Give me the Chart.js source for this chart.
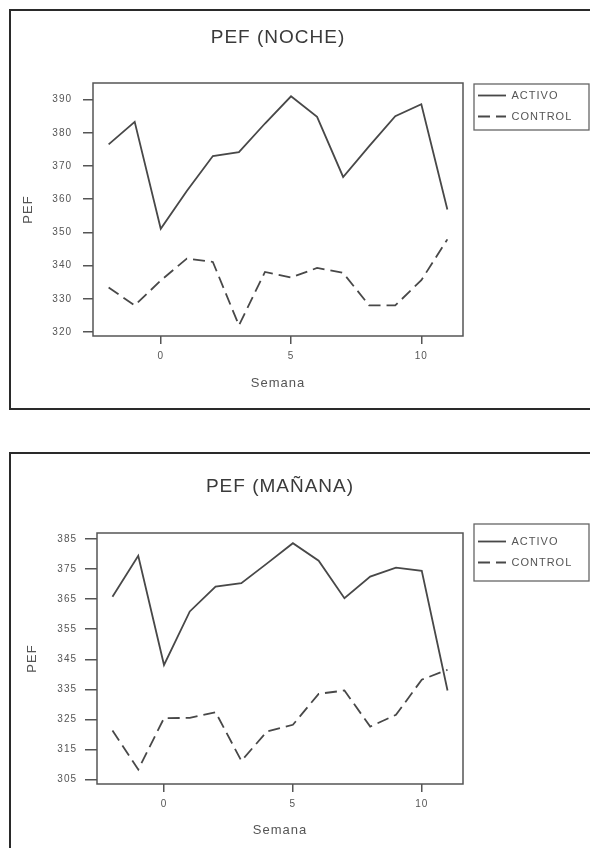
<!DOCTYPE html>
<html>
<head>
<meta charset="utf-8">
<title>PEF</title>
<script src="https://cdn.jsdelivr.net/npm/chart.js@4"></script>
<style>
body{
    margin:0;
    width:590px;
    height:848px;
    overflow:hidden;
    background:#fff;
    position:relative;
}
canvas{
    position:absolute;
    left:0;
}
.frame{
    position:absolute;
    left:9px;
    width:640px;
    border:2px solid #2a2a2a;
    pointer-events:none;
}
</style>
</head>
<body>

<canvas id="nocheChart" width="590" height="410" style="top:0px"></canvas>
<canvas id="mananaChart" width="590" height="395" style="top:453px"></canvas>

<div class="frame" style="top:9px;height:397px"></div>
<div class="frame" style="top:452px;height:500px"></div>

<script>

// semanas del estudio
let semanas = [-2, -1, 0, 1, 2, 3, 4, 5, 6, 7, 8, 9, 10, 11];

// PEF noche
let activoNoche = [376.5, 383.3, 351.1, 362.5, 373.0, 374.2, 382.8, 391.0, 384.8, 366.7, 376.0, 385.0, 388.6, 356.9];
let controlNoche = [333.4, 328.0, 335.5, 342.1, 341.1, 322.0, 338.1, 336.4, 339.3, 337.8, 328.0, 328.0, 335.6, 347.9];

// PEF mañana
let activoManana = [365.8, 379.4, 343.1, 360.9, 369.2, 370.3, 376.9, 383.6, 377.8, 365.3, 372.5, 375.5, 374.4, 334.6];
let controlManana = [321.3, 308.3, 325.4, 325.5, 327.4, 311.2, 321.0, 323.2, 333.5, 334.6, 322.6, 326.5, 338.2, 341.5];

// ticks
let xTicks = [0, 5, 10];
let yTicksNoche = [320, 330, 340, 350, 360, 370, 380, 390];
let yTicksManana = [305, 315, 325, 335, 345, 355, 365, 375, 385];

const FONT = "'Liberation Sans', Arial, sans-serif";
const INK = "#555";
const LINE = "#484848";

function points(values){
    return semanas.map((s, i) => ({x: s, y: values[i]}));
}

// leyenda con el mismo trazo (discontinuo) que cada serie
function legendLabels(chart){
    let items =
    Chart.defaults.plugins.legend.labels.generateLabels(chart);

    items.forEach((item, i) => {
        let ds = chart.data.datasets[i];
        item.lineDash = ds.borderDash || [];
        item.lineWidth = ds.borderWidth;
        item.strokeStyle = ds.borderColor;
    });

    return items;
}

// marco del grafico, leyenda movida y recuadro de leyenda
const boxPlugin = {
    id: "boxPlugin",
    afterLayout(chart){
        let lg = chart.legend;
        let p = chart.options.plugins.boxPlugin;
        let h = lg.bottom - lg.top;
        lg.left = p.itemX - 10;
        lg.right = chart.width;
        lg.top = p.itemY - 10;
        lg.bottom = lg.top + h;
    },
    beforeDraw(chart){
        chart.ctx.letterSpacing = "1px";
    },
    afterDraw(chart){
        let ctx = chart.ctx;
        let a = chart.chartArea;
        let p = chart.options.plugins.boxPlugin;

        ctx.save();
        ctx.strokeStyle = "#555";
        ctx.lineWidth = 1.5;
        ctx.setLineDash([]);
        ctx.strokeRect(a.left, a.top, a.right - a.left, a.bottom - a.top);

        ctx.strokeStyle = "#666";
        ctx.lineWidth = 1.3;
        ctx.strokeRect(p.box[0], p.box[1], p.box[2], p.box[3]);
        ctx.restore();
    }
};

function makeChart(id, cfg){

    const ctx =
    document.getElementById(id);

    return new Chart(ctx, {
        type: "line",
        data: {
            datasets: [{
                label: "ACTIVO",
                data: points(cfg.activo),
                borderColor: LINE,
                backgroundColor: "transparent",
                borderWidth: 1.8,
                pointRadius: 0,
                pointStyle: "line",
                tension: 0
            },{
                label: "CONTROL",
                data: points(cfg.control),
                borderColor: LINE,
                backgroundColor: "transparent",
                borderWidth: 1.8,
                borderDash: [12, 6],
                pointRadius: 0,
                pointStyle: "line",
                tension: 0
            }]
        },
        options: {
            responsive: false,
            animation: false,
            events: [],
            layout: {
                padding: {left: 0, right: 37, top: 0, bottom: 0}
            },
            scales: {
                x: {
                    type: "linear",
                    min: -2.6,
                    max: 11.6,
                    afterBuildTicks: s => { s.ticks = xTicks.map(v => ({value: v})); },
                    afterFit: s => { s.height = cfg.xHeight; },
                    grid: {
                        drawOnChartArea: false,
                        drawTicks: true,
                        tickLength: 8,
                        color: INK,
                        lineWidth: 1.5
                    },
                    border: {display: false},
                    ticks: {
                        color: INK,
                        padding: 6,
                        maxRotation: 0,
                        font: {family: FONT, size: 10}
                    },
                    title: {
                        display: true,
                        text: "Semana",
                        color: INK,
                        padding: {top: 0, bottom: cfg.xTitlePad},
                        font: {family: FONT, size: 13}
                    }
                },
                y: {
                    min: cfg.yMin,
                    max: cfg.yMax,
                    afterBuildTicks: s => { s.ticks = cfg.yTicks.map(v => ({value: v})); },
                    afterFit: s => { s.width = cfg.yWidth; },
                    grid: {
                        drawOnChartArea: false,
                        drawTicks: true,
                        tickLength: cfg.yTickLen,
                        color: INK,
                        lineWidth: 1.5
                    },
                    border: {display: false},
                    ticks: {
                        color: INK,
                        padding: cfg.yTickPad,
                        font: {family: FONT, size: 10}
                    },
                    title: {
                        display: true,
                        text: "PEF",
                        color: INK,
                        padding: {top: cfg.yTitlePad, bottom: 0},
                        font: {family: FONT, size: 13}
                    }
                }
            },
            plugins: {
                title: {
                    display: true,
                    text: cfg.title,
                    fullSize: false,
                    color: "#3a3a3a",
                    padding: {top: cfg.titleTop, bottom: cfg.titleBottom},
                    font: {family: FONT, size: 19, weight: "normal"}
                },
                legend: {
                    display: true,
                    position: "right",
                    align: "start",
                    maxWidth: 90,
                    labels: {
                        usePointStyle: true,
                        pointStyleWidth: 28,
                        boxHeight: 10,
                        padding: 10,
                        color: INK,
                        font: {family: FONT, size: 11},
                        generateLabels: legendLabels
                    }
                },
                tooltip: {enabled: false},
                boxPlugin: {
                    itemX: cfg.legendX,
                    itemY: cfg.legendY,
                    box: cfg.legendBox
                }
            }
        },
        plugins: [boxPlugin]
    });

}

makeChart("nocheChart", {
    title: "PEF (NOCHE)",
    activo: activoNoche,
    control: controlNoche,
    yTicks: yTicksNoche,
    yMin: 318.8,
    yMax: 395,
    yWidth: 93,
    yTickLen: 10,
    yTickPad: 11,
    yTitlePad: 21,
    xHeight: 74,
    xTitlePad: 19,
    titleTop: 26.6,
    titleBottom: 33.6,
    legendX: 478,
    legendY: 90,
    legendBox: [474, 84, 115, 46]
});

makeChart("mananaChart", {
    title: "PEF (MAÑANA)",
    activo: activoManana,
    control: controlManana,
    yTicks: yTicksManana,
    yMin: 303.5,
    yMax: 387,
    yWidth: 97,
    yTickLen: 12,
    yTickPad: 8,
    yTitlePad: 25,
    xHeight: 64,
    xTitlePad: 10,
    titleTop: 22.6,
    titleBottom: 34.6,
    legendX: 478,
    legendY: 83,
    legendBox: [474, 71, 115, 57]
});

</script>
</body>
</html>
